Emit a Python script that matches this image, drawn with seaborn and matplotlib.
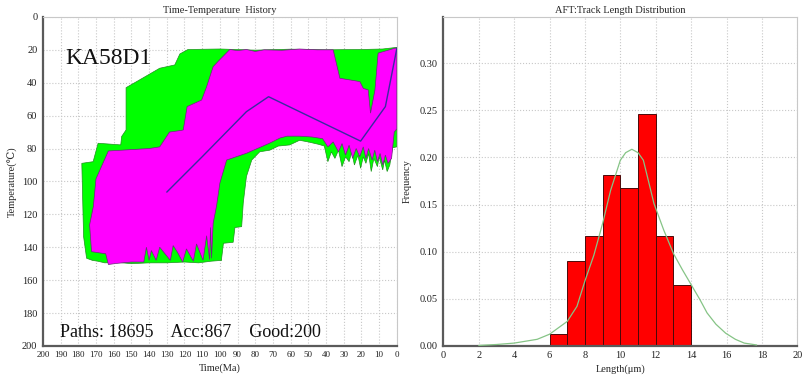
import matplotlib
matplotlib.use("Agg")
import matplotlib.pyplot as plt
import numpy as np
import seaborn as sns

# ---- time-temperature envelopes (time in Ma, temperature in degC) ----
green_time = [175.3, 177, 178, 171.6, 168.8, 156, 155.5, 153, 153, 147, 134, 125.5, 122.6, 118,
              100, 80, 60, 40, 20, 8, 0,
              0, 2.5, 4, 5.5, 7, 8, 10, 11, 13, 14.5, 16, 17.5, 19, 20.5, 22, 24, 25.5, 27, 29,
              31, 33, 35, 37, 39, 41, 44, 50, 55, 60.5, 67, 71.8, 77.5, 82, 85, 86.8, 87.7,
              91.5, 92.5, 98, 99, 99,
              105, 112, 120, 130, 140, 150, 158, 165, 169, 172]
green_temp = [146.7, 133.5, 89, 88, 76.8, 77.8, 72.7, 68.7, 43, 39.3, 31.2, 29.2, 22.5, 19.8,
              19.5, 20.2, 19.6, 20, 19.8, 19.5, 18.5,
              79, 79.5, 90, 94, 87, 93, 85, 91, 86, 94, 83, 89, 85, 92, 84, 90, 82, 88, 85,
              91, 81, 86, 82, 88, 78.5, 77.5, 76, 75, 77.8, 78.5, 81, 82, 87, 97, 113, 127.5,
              128, 137, 137.6, 146.5, 148,
              148.5, 149.5, 149, 149.5, 149.5, 150, 149.2, 149.5, 148.5, 148]

good_time = [163, 164.5, 172.5, 173.6, 171.5, 170, 163, 140, 134, 128.5, 122, 120.7, 118.5,
             110.3, 107.5, 103.8, 101, 94.4, 90, 85, 80, 75, 65, 55, 45, 36, 32.2, 20.9, 19,
             16.2, 14.9, 12.4, 10.6, 1.1, 0,
             0, 1.5, 3, 5, 6.5, 8, 9.5, 11, 12.5, 14, 16, 17.5, 19, 21, 23, 25, 27, 29, 31,
             33, 36, 39, 42, 48, 55, 62, 66, 71.8, 85, 96.2, 100, 101.9, 103.8, 104.7,
             105.3, 105.8, 107.5, 109.5, 113.2, 115, 118.9, 121, 124, 126.4, 128, 131, 134,
             136, 138.7, 140, 141.5, 143, 150, 158]
good_temp = [150.5, 144, 142.7, 126.4, 115.3, 98.4, 81.5, 80, 79, 70, 69, 68.7, 54.5,
             50.5, 42.4, 30.2, 27, 19.8, 20.5, 19.8, 21, 20, 20.3, 19.5, 20, 20, 37.3, 39.3,
             43.4, 44.4, 58.5, 44.4, 22, 19, 19,
             68, 70, 86, 89, 84, 90, 83, 88, 81, 87, 80, 86, 79, 85, 80, 86, 78, 84, 77,
             82, 76, 79, 74, 73, 72.5, 72.5, 73.6, 76.7, 82.9, 87, 101, 115, 125.4, 146.7,
             128, 147.5, 133, 148, 138, 148.5, 141, 149, 143, 139, 148, 144, 140,
             148, 142, 148, 140, 149, 149, 149.8]

best_time = [130, 110, 85, 72.5, 20.5, 6.5, 0]
best_temp = [106.5, 85, 57.6, 48.5, 75.5, 54.5, 19]

# ---- track length histogram ----
bin_edges = [6, 7, 8, 9, 10, 11, 12, 13, 14]
bin_freq = [0.013, 0.090, 0.117, 0.181, 0.168, 0.246, 0.117, 0.065]

curve_len = [2.0, 3.0, 4.0, 5.3, 6.0, 7.0, 7.55, 8.0, 8.5, 9.0, 9.45, 10.0, 10.3, 10.65,
             11.0, 11.3, 11.9, 12.45, 13.0, 13.5, 14.0, 14.5, 14.9, 15.4, 15.95, 16.5,
             17.0, 17.7]
curve_freq = [0.0005, 0.0015, 0.003, 0.007, 0.0124, 0.026, 0.042, 0.069, 0.096, 0.130,
              0.165, 0.197, 0.205, 0.2086, 0.205, 0.197, 0.151, 0.123, 0.098, 0.081,
              0.065, 0.049, 0.035, 0.023, 0.0135, 0.007, 0.003, 0.001]

sns.set_theme(style="whitegrid")
plt.rcParams["font.family"] = ["Liberation Serif", "DejaVu Serif", "DejaVu Sans"]
plt.rcParams["axes.unicode_minus"] = False

fig = plt.figure(figsize=(8.09, 3.76), dpi=100)
ax1 = fig.add_axes([0.053, 0.080, 0.4376, 0.875])
ax2 = fig.add_axes([0.548, 0.080, 0.4376, 0.875])


def style_axes(ax):
    ax.set_facecolor("white")
    ax.grid(True, color="#c8c8c8", linestyle=":", linewidth=0.8)
    ax.set_axisbelow(True)
    for side in ["left", "bottom"]:
        ax.spines[side].set_color("#5a5a5a")
        ax.spines[side].set_linewidth(1.6)
    for side in ["top", "right"]:
        ax.spines[side].set_color("#c8c8c8")
        ax.spines[side].set_linewidth(0.8)
    ax.tick_params(axis="both", which="major", length=2.5, width=0.6, color="#5a5a5a",
                   pad=1.5, labelcolor="#222222")


# left panel
ax1.fill(green_time, green_temp, facecolor="#00ff00", edgecolor="#1f8f1f", linewidth=0.5, zorder=2)
ax1.fill(good_time, good_temp, facecolor="#ff00ff", edgecolor="#6a2a7a", linewidth=0.5, zorder=3)
sns.lineplot(x=best_time, y=best_temp, sort=False, color="#3a2aa0", linewidth=1.0, ax=ax1, zorder=4)
ax1.set_xlim(200, 0)
ax1.set_ylim(200, 0)
ax1.set_xticks(np.arange(0, 201, 10))
ax1.set_yticks(np.arange(0, 201, 20))
style_axes(ax1)
ax1.tick_params(axis="x", labelsize=6.5)
ax1.tick_params(axis="y", labelsize=7.5)
ax1.set_xlabel("Time(Ma)", fontsize=7.5, labelpad=3)
ax1.set_ylabel("Temperature(℃)", fontsize=7.5, labelpad=3)
ax1.set_title("Time-Temperature  History", fontsize=7.5, pad=3)
ax1.text(187.5, 25, "KA58D1", fontsize=17, va="center", ha="left", color="#111111")
ax1.text(190.5, 194.5, "Paths: 18695    Acc:867    Good:200", fontsize=13,
         va="baseline", ha="left", color="#111111")

# right panel
sns.histplot(x=[(a + b) / 2 for a, b in zip(bin_edges[:-1], bin_edges[1:])], weights=bin_freq,
             bins=bin_edges, color="#ff0000", alpha=1.0, edgecolor="#4a0a0a", linewidth=0.7,
             ax=ax2, zorder=2)
sns.lineplot(x=curve_len, y=curve_freq, color="#86c486", linewidth=0.9, ax=ax2, zorder=3)
ax2.set_xlim(0, 20)
ax2.set_ylim(0, 0.349)
ax2.set_xticks(np.arange(0, 21, 2))
ax2.set_yticks(np.arange(0, 0.31, 0.05))
ax2.set_yticklabels([f"{v:.2f}" for v in np.arange(0, 0.31, 0.05)])
style_axes(ax2)
ax2.tick_params(axis="both", labelsize=7.5)
ax2.set_xlabel("Length(μm)", fontsize=7.5, labelpad=3)
ax2.set_ylabel("Frequency", fontsize=7.5, labelpad=6)
ax2.set_title("AFT:Track Length Distribution", fontsize=7.5, pad=3)

fig.savefig("out.png", dpi=100)
plt.close(fig)
